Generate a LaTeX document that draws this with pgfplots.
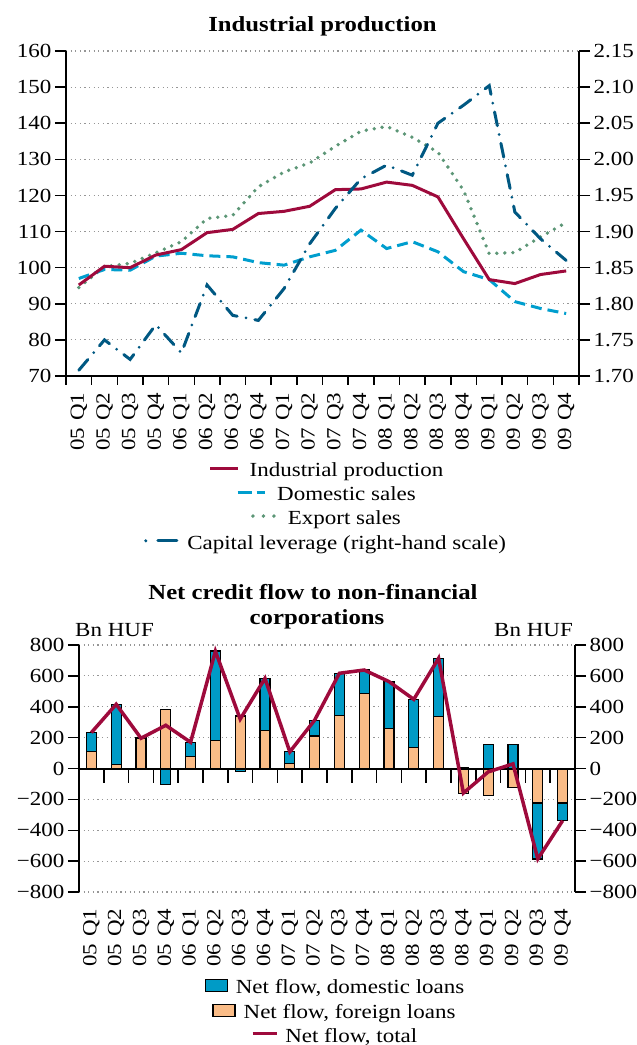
\documentclass[border=0pt]{standalone}
\usepackage{fontspec}
\setmainfont{Liberation Serif}[FakeStretch=1.15]
\usepackage{pgfplots}
\pgfplotsset{compat=1.18}
\definecolor{ipred}{RGB}{158,10,60}
\definecolor{domc}{RGB}{0,158,206}
\definecolor{expc}{RGB}{92,150,118}
\definecolor{capc}{RGB}{0,88,130}
\definecolor{bardom}{RGB}{0,155,198}
\definecolor{barfor}{RGB}{250,188,135}
\definecolor{gridgray}{RGB}{150,150,150}
\newcommand\fsz{\fontsize{20}{24}\selectfont}
\newcommand\tsz{\fontsize{21.5}{25}\selectfont}
\newcommand\ql[2]{#1\hspace{7pt}Q#2}
\newcommand\xlabs{\ql{05}1,\ql{05}2,\ql{05}3,\ql{05}4,\ql{06}1,\ql{06}2,\ql{06}3,\ql{06}4,\ql{07}1,\ql{07}2,\ql{07}3,\ql{07}4,\ql{08}1,\ql{08}2,\ql{08}3,\ql{08}4,\ql{09}1,\ql{09}2,\ql{09}3,\ql{09}4}
\tikzset{
  ipline/.style={ipred, line width=3pt},
  domline/.style={domc, line width=3pt, dash pattern=on 11pt off 6pt},
  expline/.style={expc, line width=3.8pt, line cap=round, dash pattern=on 0pt off 8pt},
  capline/.style={capc, line width=3pt, line cap=round, dash pattern=on 14pt off 9pt on 0pt off 9pt},
  totline/.style={ipred, line width=3.5pt, line join=miter},
}
\newsavebox\bIP \sbox\bIP{\tikz\draw[ipline] (0,0)--(28pt,0);}
\newsavebox\bDOM \sbox\bDOM{\tikz\draw[domc, line width=3pt] (0,0)--(14pt,0) (19pt,0)--(27pt,0);}
\newsavebox\bEXP \sbox\bEXP{\tikz\draw[expc, line width=3.8pt, line cap=round, dash pattern=on 0pt off 10.5pt] (0,0)--(22pt,0);}
\newsavebox\bCAP \sbox\bCAP{\tikz{\fill[capc] (0,0) circle (1.7pt); \draw[capc, line width=3pt, line cap=round] (12pt,0)--(31pt,0);}}
\newsavebox\bBD \sbox\bBD{\tikz\draw[fill=bardom, draw=black, line width=1.2pt] (0,-6pt) rectangle (22pt,6pt);}
\newsavebox\bBF \sbox\bBF{\tikz\draw[fill=barfor, draw=black, line width=1.2pt] (0,-6pt) rectangle (22pt,6pt);}
\newsavebox\bTOT \sbox\bTOT{\tikz\draw[ipred, line width=3.5pt] (0,0)--(24pt,0);}
\pgfplotsset{
  base/.style={scale only axis, xmin=-0.5, xmax=19.5,
    axis line style={line width=2pt, -},
    tick style={line width=1.5pt, black}, tick align=outside,
    tick label style={font=\fsz},
    /pgf/number format/assume math mode=true,
    major grid style={gridgray, line width=1.2pt, dash pattern=on 1.2pt off 3.4pt},
  },
}
\begin{document}
\begin{tikzpicture}[font=\fsz]
\useasboundingbox (0,0) rectangle (637pt,-1045pt);
% ---------------- top chart ----------------
\node[font=\tsz\bfseries, anchor=base] at (322.5pt,-31pt) {Industrial production};
\begin{axis}[base, at={(66pt,-376pt)}, anchor=south west, width=513pt, height=325pt,
  ymin=70, ymax=160, axis x line*=bottom, axis y line*=left, clip=false,
  xtick={0,...,19}, xticklabels/.expand once={\xlabs}, major x tick style={draw=none},
  major tick length=11pt,
  xticklabel style={yshift=-2pt, rotate=90, anchor=east},
  ytick={70,80,...,160}, ymajorgrids]
\addplot[expline] coordinates {(0,94.5)(1,100.3)(2,101.2)(3,104.1)(4,107.2)(5,113.6)(6,114.5)(7,122.4)(8,126.5)(9,129.0)(10,133.6)(11,137.8)(12,139.1)(13,136.1)(14,132.0)(15,121.4)(16,103.9)(17,104.2)(18,108.5)(19,112.5)};
\addplot[domline] coordinates {(0,97.0)(1,99.5)(2,99.3)(3,103.2)(4,104.0)(5,103.3)(6,103.0)(7,101.4)(8,100.7)(9,103.0)(10,104.8)(11,110.4)(12,105.3)(13,107.2)(14,104.4)(15,98.9)(16,96.7)(17,90.6)(18,88.7)(19,87.3)};
\addplot[ipline] coordinates {(0,95.2)(1,100.4)(2,100.0)(3,103.5)(4,105.0)(5,109.7)(6,110.6)(7,115.0)(8,115.6)(9,117.0)(10,121.6)(11,121.8)(12,123.7)(13,122.8)(14,119.6)(15,108.0)(16,96.7)(17,95.6)(18,98.1)(19,99.1)};
% category boundary ticks under the x axis
\pgfplotsinvokeforeach{-0.5,0.5,...,19.5}{\draw[black, line width=1.5pt] (axis cs:#1,70) -- ++(0pt,-9pt);}
\end{axis}
\begin{axis}[base, at={(66pt,-376pt)}, anchor=south west, width=513pt, height=325pt,
  ymin=1.70, ymax=2.15, axis y line*=right, axis x line=none, xtick=\empty,
  ytick={1.70,1.75,1.80,1.85,1.90,1.95,2.00,2.05,2.10,2.15},
  yticklabels={1.70,1.75,1.80,1.85,1.90,1.95,2.00,2.05,2.10,2.15},
  major tick length=11pt]
\addplot[capline] coordinates {(0,1.708)(1,1.750)(2,1.723)(3,1.771)(4,1.732)(5,1.826)(6,1.784)(7,1.777)(8,1.821)(9,1.883)(10,1.932)(11,1.973)(12,1.992)(13,1.978)(14,2.050)(15,2.075)(16,2.102)(17,1.927)(18,1.890)(19,1.860)};
\end{axis}
% top legend
\node[anchor=base] at (326pt,-476.5pt) {\raisebox{6.5pt}{\usebox\bIP}\hspace{10pt}Industrial production};
\node[anchor=base] at (326pt,-500.5pt) {\raisebox{6.5pt}{\usebox\bDOM}\hspace{11pt}Domestic sales};
\node[anchor=base] at (326pt,-524.5pt) {\raisebox{6.5pt}{\usebox\bEXP}\hspace{11pt}Export sales};
\node[anchor=base] at (325pt,-549pt) {\raisebox{6.5pt}{\usebox\bCAP}\hspace{9pt}Capital leverage (right-hand scale)};
% ---------------- bottom chart ----------------
\node[font=\tsz\bfseries, anchor=base] at (313pt,-599pt) {Net credit flow to non-financial};
\node[font=\tsz\bfseries, anchor=base] at (317pt,-624pt) {corporations};
\node[anchor=base west, inner sep=0pt] at (75pt,-636pt) {Bn HUF};
\node[anchor=base east, inner sep=0pt] at (573pt,-636pt) {Bn HUF};
\begin{axis}[base, at={(79pt,-892pt)}, anchor=south west, width=496pt, height=247pt,
  ymin=-800, ymax=800, axis y line*=left, axis x line*=bottom, x axis line style={draw=none},
  xtick={0,...,19}, xticklabels/.expand once={\xlabs}, major x tick style={draw=none},
  xticklabel style={yshift=-2pt, rotate=90, anchor=east},
  ytick={-800,-600,...,800}, yticklabels={−800,−600,−400,−200,0,200,400,600,800},
  major tick length=11pt, ymajorgrids,
  ybar, bar width=10pt, bar shift=0pt]
% outer extent of each bar (domestic part lies beyond the foreign part)
\addplot[fill=bardom, draw=black, line width=1.2pt] coordinates {(0,233)(1,416)(2,0)(3,-103)(4,168)(5,761)(6,-20)(7,584)(8,112)(9,313)(10,617)(11,638)(12,563)(13,448)(14,714)(15,5)(16,157)(17,153)(18,-586)(19,-338)};
% foreign loans
\addplot[fill=barfor, draw=black, line width=1.2pt] coordinates {(0,108)(1,28)(2,198)(3,384)(4,78)(5,179)(6,340)(7,244)(8,30)(9,210)(10,345)(11,487)(12,257)(13,138)(14,336)(15,-164)(16,-177)(17,-123)(18,-224)(19,-224)};
\end{axis}
\begin{axis}[base, at={(79pt,-892pt)}, anchor=south west, width=496pt, height=247pt,
  ymin=-800, ymax=800, axis y line*=right, axis x line*=middle,
  xtick=\empty, extra x ticks={-0.5,0.5,...,19.5}, extra x tick labels={},
  extra x tick style={major tick length=14pt},
  ytick={-800,-600,...,800}, yticklabels={−800,−600,−400,−200,0,200,400,600,800},
  major tick length=11pt]
\addplot[totline] coordinates {(0,233)(1,416)(2,196)(3,280)(4,170)(5,760)(6,320)(7,584)(8,108)(9,313)(10,617)(11,638)(12,563)(13,448)(14,714)(15,-159)(16,-22)(17,30)(18,-586)(19,-338)};
\end{axis}
% bottom legend
\node[anchor=base] at (334.5pt,-993pt) {\raisebox{1pt}{\usebox\bBD}\hspace{8pt}Net flow, domestic loans};
\node[anchor=base] at (334pt,-1018pt) {\raisebox{1pt}{\usebox\bBF}\hspace{8pt}Net flow, foreign loans};
\node[anchor=base] at (334pt,-1042pt) {\raisebox{7pt}{\usebox\bTOT}\hspace{7pt}Net flow, total};
\end{tikzpicture}
\end{document}
